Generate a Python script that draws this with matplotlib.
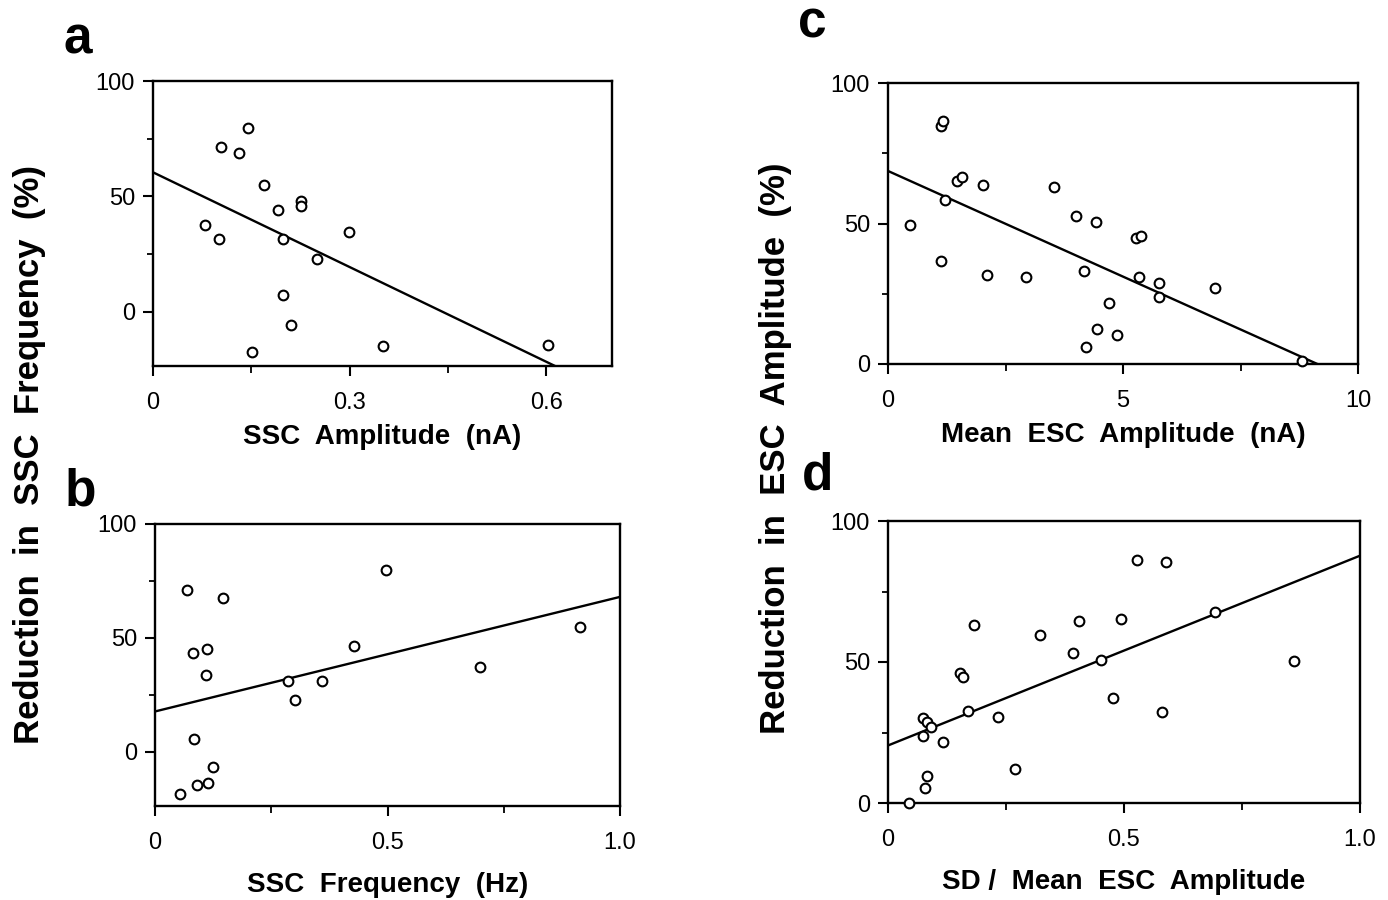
import numpy as np
import matplotlib
matplotlib.use("Agg")
import matplotlib.pyplot as plt
from matplotlib.ticker import MultipleLocator

plt.rcParams["font.family"] = ["Liberation Sans", "DejaVu Sans"]

# panel a: SSC amplitude (nA) vs reduction in SSC frequency (%)
a_x = [0.080, 0.100, 0.103, 0.131, 0.145, 0.151, 0.169, 0.190, 0.199, 0.199,
       0.211, 0.225, 0.226, 0.250, 0.299, 0.351, 0.602]
a_y = [37.6, 31.5, 71.5, 68.9, 79.6, -17.7, 54.7, 44.1, 31.5, 7.0,
       -5.9, 47.8, 45.8, 22.8, 34.4, -14.8, -14.3]
a_fit = (60.4, -137.0)  # intercept, slope

# panel b: SSC frequency (Hz) vs reduction in SSC frequency (%)
b_x = [0.053, 0.068, 0.082, 0.083, 0.091, 0.109, 0.112, 0.113, 0.125, 0.146,
       0.287, 0.300, 0.360, 0.428, 0.497, 0.698, 0.915]
b_y = [-18.5, 70.9, 43.4, 5.7, -14.8, 33.5, 45.3, -13.8, -6.5, 67.7,
       31.1, 22.9, 31.2, 46.3, 79.7, 37.1, 55.0]
b_fit = (17.7, 50.3)

# panel c: mean ESC amplitude (nA) vs reduction in ESC amplitude (%)
c_x = [0.46, 1.12, 1.18, 1.13, 1.21, 1.46, 1.57, 2.03, 2.11, 2.93,
       3.53, 3.99, 4.17, 4.22, 4.43, 4.44, 4.70, 4.87, 5.28, 5.38,
       5.34, 5.76, 5.76, 6.95, 8.80]
c_y = [49.6, 84.7, 86.3, 36.6, 58.5, 65.0, 66.5, 63.6, 31.7, 30.9,
       63.0, 52.8, 33.2, 5.9, 50.5, 12.3, 21.8, 10.2, 44.8, 45.5,
       31.0, 28.9, 23.9, 26.9, 0.9]
c_fit = (68.7, -7.52)

# panel d: SD / mean ESC amplitude vs reduction in ESC amplitude (%)
d_x = [0.045, 0.074, 0.074, 0.079, 0.083, 0.083, 0.091, 0.116, 0.153, 0.158,
       0.170, 0.183, 0.234, 0.269, 0.323, 0.391, 0.404, 0.451, 0.477, 0.494,
       0.528, 0.580, 0.588, 0.693, 0.861]
d_y = [0.0, 30.3, 23.8, 5.3, 9.7, 28.9, 26.9, 21.8, 46.0, 44.7,
       32.7, 63.0, 30.6, 11.9, 59.4, 53.1, 64.5, 50.7, 37.2, 65.3,
       86.0, 32.2, 85.3, 67.6, 50.4]
d_fit = (20.4, 67.3)

a_ticks = ([0, 0.3, 0.6], ["0", "0.3", "0.6"])
b_ticks = ([0, 0.5, 1.0], ["0", "0.5", "1.0"])
c_ticks = ([0, 5, 10], ["0", "5", "10"])
d_ticks = ([0, 0.5, 1.0], ["0", "0.5", "1.0"])

W, H = 1388.0, 900.0


def rect(x0, x1, y0, y1):
    return [x0 / W, 1 - y1 / H, (x1 - x0) / W, (y1 - y0) / H]


def panel(fig, box, xs, ys, fit, xlim, ylim, xticks, xminor, xlabel, label_y):
    ax = fig.add_axes(rect(*box))
    ax.plot(xs, ys, "o", ms=7, mfc="white", mec="black", mew=1.5,
            clip_on=False, zorder=3)
    lx = np.array(xlim)
    ax.plot(lx, fit[0] + fit[1] * lx, color="black", lw=1.7)
    ax.set_xlim(*xlim)
    ax.set_ylim(*ylim)
    ax.set_xticks(xticks[0])
    ax.set_xticklabels(xticks[1])
    ax.xaxis.set_minor_locator(MultipleLocator(xminor))
    ax.set_yticks([0, 50, 100])
    ax.yaxis.set_minor_locator(MultipleLocator(25))
    for s in ax.spines.values():
        s.set_linewidth(1.7)
    ax.tick_params(axis="x", which="major", direction="out", length=7,
                   width=1.5, pad=12, labelsize=17)
    ax.tick_params(axis="x", which="minor", direction="out", length=5, width=1.3)
    ax.tick_params(axis="y", which="major", direction="out", length=7,
                   width=1.5, pad=6, labelsize=17)
    ax.tick_params(axis="y", which="minor", direction="out", length=4, width=1.3)
    cx = (box[0] + box[1]) / 2
    fig.text(cx / W, 1 - label_y / H, xlabel, ha="center", va="center",
             fontsize=20, fontweight="bold")
    return ax


fig = plt.figure(figsize=(13.88, 9.0), dpi=100)

panel(fig, (153, 612, 81, 366), a_x, a_y, a_fit, (0, 0.7), (-23.6, 100),
      a_ticks, 0.15, "SSC  Amplitude  (nA)", 437)
panel(fig, (155, 620, 524, 806), b_x, b_y, b_fit, (0, 1.0), (-23.8, 100),
      b_ticks, 0.25, "SSC  Frequency  (Hz)", 885)
panel(fig, (888, 1358, 83, 364), c_x, c_y, c_fit, (0, 10), (0, 100),
      c_ticks, 2.5, "Mean  ESC  Amplitude  (nA)", 435)
panel(fig, (888, 1360, 521, 803), d_x, d_y, d_fit, (0, 1.0), (0, 100),
      d_ticks, 0.25, "SD /  Mean  ESC  Amplitude", 882)

fig.text(30 / W, 1 - 455 / H, "Reduction  in  SSC  Frequency  (%)",
         rotation=90, ha="center", va="center", fontsize=25, fontweight="bold")
fig.text(775 / W, 1 - 448 / H, "Reduction  in  ESC  Amplitude  (%)",
         rotation=90, ha="center", va="center", fontsize=25, fontweight="bold")

# panel letters, placed by baseline
for letter, x, y in [("a", 78, 54), ("b", 80, 505), ("c", 812, 37), ("d", 818, 490)]:
    fig.text(x / W, 1 - y / H, letter, ha="center", va="baseline",
             fontsize=37, fontweight="bold")

fig.savefig("out.png", dpi=100)
